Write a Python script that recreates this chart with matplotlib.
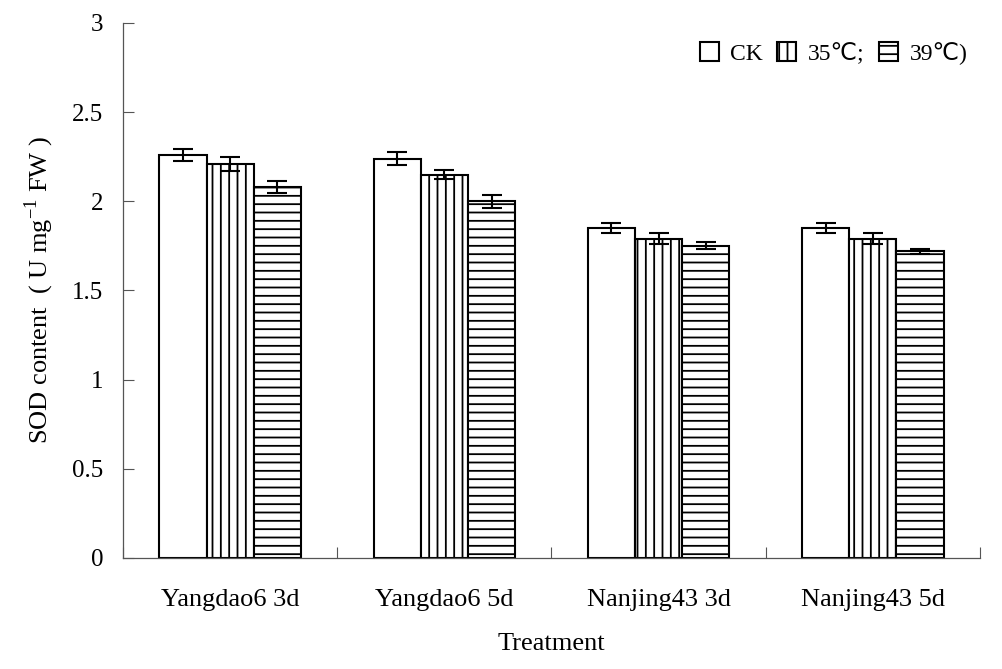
import matplotlib
matplotlib.use("Agg")
import matplotlib.pyplot as plt
import numpy as np

plt.rcParams['font.family'] = ['Liberation Serif', 'DejaVu Sans']
plt.rcParams['mathtext.fontset'] = 'custom'
plt.rcParams['mathtext.rm'] = 'Liberation Serif'
plt.rcParams['hatch.linewidth'] = 1.3

treatments = ["Yangdao6 3d", "Yangdao6 5d", "Nanjing43 3d", "Nanjing43 5d"]
series = ["CK", "35℃;", "39℃)"]
ck = [2.26, 2.24, 1.85, 1.85]
t35 = [2.21, 2.15, 1.79, 1.79]
t39 = [2.08, 2.00, 1.75, 1.72]
ck_err = [0.035, 0.035, 0.03, 0.03]
t35_err = [0.04, 0.025, 0.03, 0.03]
t39_err = [0.035, 0.035, 0.02, 0.015]

values = [ck, t35, t39]
errors = [ck_err, t35_err, t39_err]
hatches = ['', '||', '--']

fig = plt.figure(figsize=(10.03, 6.69), dpi=100)
ax = fig.add_axes([123/1003, 1-558/669, (980-123)/1003, (558-23)/669])

x = np.arange(len(treatments)) + 0.5
w = 0.22
for k in range(3):
    ax.bar(x + (k-1)*w, values[k], w, color='white', edgecolor='black',
           linewidth=1.5, hatch=hatches[k], label=series[k],
           yerr=errors[k], capsize=7,
           error_kw=dict(ecolor='black', elinewidth=1.5, capthick=1.5))

ax.set_xlim(0, 4)
ax.set_ylim(0, 3)
ax.set_yticks(np.arange(0, 3.01, 0.5))
ax.set_yticklabels(['0', '0.5', '1', '1.5', '2', '2.5', '3'], fontsize=18)
ax.tick_params(axis='y', direction='in', length=8, width=0.8, color='#555555', pad=14)

ax.set_xticks(np.arange(0, 5))
ax.set_xticklabels([])
ax.tick_params(axis='x', which='major', direction='in', length=8, width=0.8, color='#555555')
ax.set_xticks(x, minor=True)
ax.set_xticklabels(treatments, minor=True, fontsize=19)
ax.tick_params(axis='x', which='minor', length=0, pad=22)

for s in ['top', 'right']:
    ax.spines[s].set_visible(False)
for s in ['left', 'bottom']:
    ax.spines[s].set_color('#555555')
    ax.spines[s].set_linewidth(0.9)

ax.set_xlabel("Treatment", fontsize=19, labelpad=16)
ax.set_ylabel("SOD content  ( U mg$^{-1}$ FW )", fontsize=19, labelpad=12)

ax.legend(loc='upper left', bbox_to_anchor=(688/1003, 1-30/669),
          bbox_transform=fig.transFigure, ncol=3, frameon=False,
          fontsize=17, handlelength=0.8, handleheight=0.8,
          handletextpad=0.5, columnspacing=0.6, borderpad=0)

fig.savefig("out.png", dpi=100)
